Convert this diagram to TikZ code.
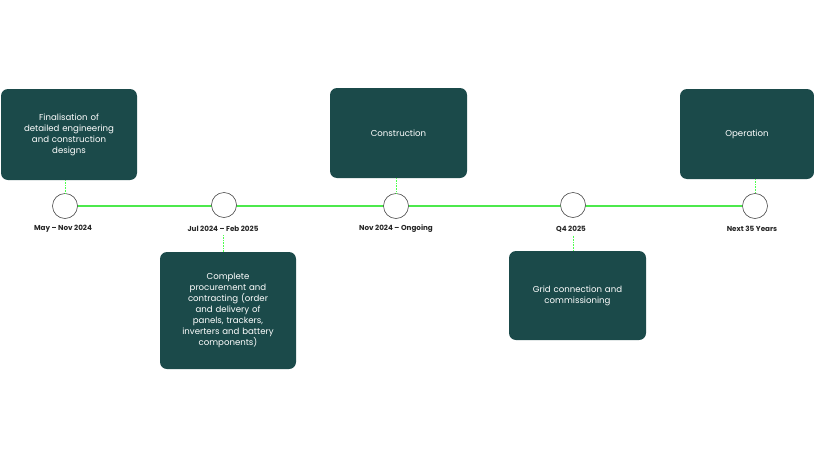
\documentclass[tikz,border=0pt]{standalone}
\usepackage{fontspec}
\setmainfont{Poppins}
\begin{document}
\begin{tikzpicture}[x=1pt,y=-1pt,
  box/.style={draw=none,fill=boxc,rounded corners=7pt,text=white,align=center,font=\fontsize{8.6}{11}\selectfont,inner sep=3pt},
  dot/.style={circle,draw=black!70,fill=white,line width=0.6pt,minimum size=25pt,inner sep=0pt},
  lbl/.style={font=\fontsize{7.2}{9}\bfseries\selectfont,text=black!85},
  link/.style={draw=green!70!white,densely dotted,line width=0.6pt}]
\definecolor{boxc}{HTML}{1B4A4A}
\definecolor{lg}{HTML}{4CE94C}
\useasboundingbox (0,0) rectangle (814,458);
\draw[lg,line width=1.6pt] (65,206) -- (755,206);
\node[dot] (c1) at (65,206) {};
\node[dot] (c2) at (224,205) {};
\node[dot] (c3) at (396,206) {};
\node[dot] (c4) at (573,205) {};
\node[dot] (c5) at (755,206) {};
\node[lbl] (l1) at (63,229) {May – Nov 2024};
\node[lbl] (l2) at (223,229) {Jul 2024 – Feb 2025};
\node[lbl] (l3) at (396,229) {Nov 2024 – Ongoing};
\node[lbl] (l4) at (571,229) {Q4 2025};
\node[lbl] (l5) at (752,229) {Next 35 Years};
\node[box,minimum width=136pt,minimum height=91pt,text width=125pt] (b1) at (69,134.5) {Finalisation of\\detailed engineering\\and construction\\designs};
\node[box,minimum width=137pt,minimum height=90pt,text width=125pt] (b3) at (398.5,133) {Construction};
\node[box,minimum width=134pt,minimum height=90pt,text width=125pt] (b5) at (747,134) {Operation};
\node[box,minimum width=136pt,minimum height=117pt,text width=125pt] (b2) at (228,310.5) {Complete\\procurement and\\contracting (order\\and delivery of\\panels, trackers,\\inverters and battery\\components)};
\node[box,minimum width=137pt,minimum height=89pt,text width=125pt] (b4) at (577.5,295.5) {Grid connection and\\commissioning};
\draw[link] (b1.south -| c1) -- (c1.north);
\draw[link] (b3.south -| c3) -- (c3.north);
\draw[link] (b5.south -| c5) -- (c5.north);
\draw[link] (l2.south) -- (b2.north -| l2.south);
\draw[link] (l4.south -| c4) -- (b4.north -| c4);
\end{tikzpicture}
\end{document}
